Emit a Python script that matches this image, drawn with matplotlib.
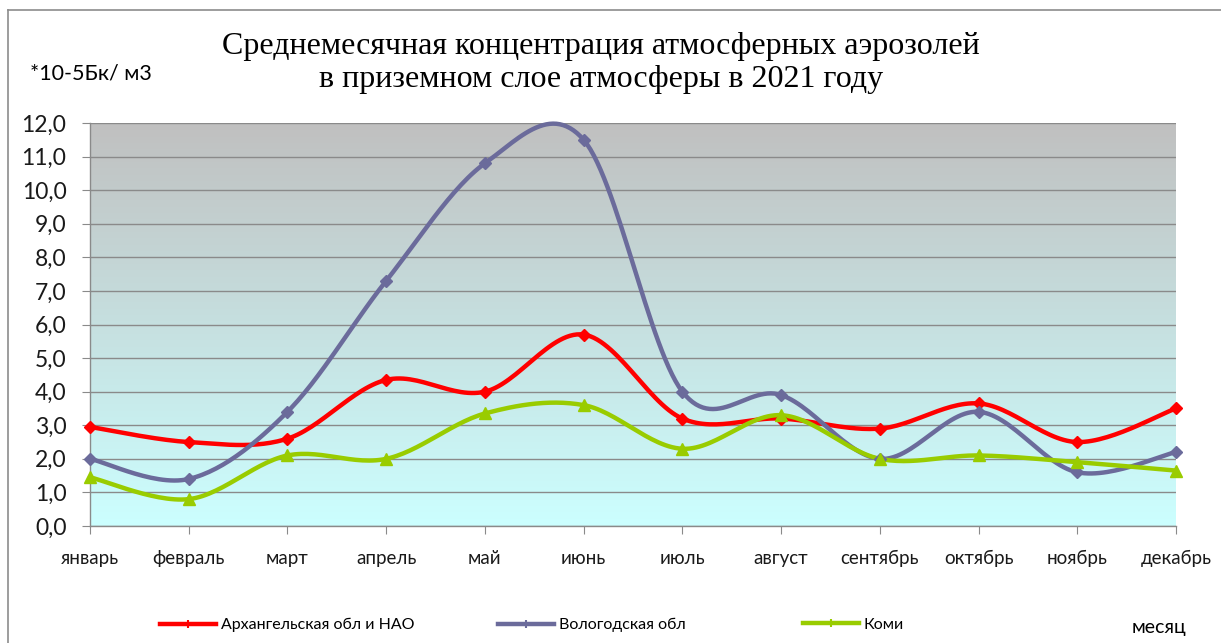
import numpy as np
import matplotlib
matplotlib.use("Agg")
import matplotlib.pyplot as plt
from matplotlib.lines import Line2D

months = ["январь", "февраль", "март", "апрель", "май", "июнь", "июль",
          "август", "сентябрь", "октябрь", "ноябрь", "декабрь"]
arkh = [2.95, 2.5, 2.6, 4.35, 4.0, 5.7, 3.2, 3.2, 2.9, 3.65, 2.5, 3.5]
volog = [2.0, 1.4, 3.4, 7.3, 10.8, 11.5, 4.0, 3.9, 2.0, 3.4, 1.6, 2.2]
komi = [1.45, 0.8, 2.1, 2.0, 3.35, 3.6, 2.3, 3.3, 2.0, 2.1, 1.9, 1.65]
series_names = ["Архангельская обл и НАО", "Вологодская обл", "Коми"]
yticks = np.arange(0, 12.1, 1.0)
ytick_labels = [f"{v:.1f}".replace(".", ",") for v in yticks]

title = "Среднемесячная концентрация атмосферных аэрозолей\nв приземном слое атмосферы в 2021 году"


def smooth(xs, ys, n=30):
    """Excel-style smoothed line: cubic Bezier with Catmull-Rom control points."""
    xs = np.asarray(xs, float)
    ys = np.asarray(ys, float)
    px = np.concatenate([[xs[0]], xs, [xs[-1]]])
    py = np.concatenate([[ys[0]], ys, [ys[-1]]])
    outx, outy = [], []
    t = np.linspace(0, 1, n)
    for i in range(1, len(px) - 2):
        p0 = np.array([px[i], py[i]])
        p3 = np.array([px[i + 1], py[i + 1]])
        c1 = p0 + (np.array([px[i + 1], py[i + 1]]) - np.array([px[i - 1], py[i - 1]])) / 6
        c2 = p3 - (np.array([px[i + 2], py[i + 2]]) - np.array([px[i], py[i]])) / 6
        b = ((1 - t) ** 3)[:, None] * p0 + (3 * (1 - t) ** 2 * t)[:, None] * c1 \
            + (3 * (1 - t) * t ** 2)[:, None] * c2 + (t ** 3)[:, None] * p3
        outx.extend(b[:, 0])
        outy.extend(b[:, 1])
    return np.array(outx), np.array(outy)


W, H = 1221, 643
fig = plt.figure(figsize=(W / 100, H / 100), dpi=100)
fig.patch.set_facecolor("white")

# outer chart border (partial, like the reference)
fig.add_artist(Line2D([8 / W, 8 / W], [0, 1 - 10 / H], transform=fig.transFigure, color="#8c8c8c", lw=1.2))
fig.add_artist(Line2D([8 / W, 1], [1 - 10 / H, 1 - 10 / H], transform=fig.transFigure, color="#8c8c8c", lw=1.2))

left, right = 90 / W, 1176 / W
bottom, top = (H - 526) / H, (H - 123) / H
ax = fig.add_axes([left, bottom, right - left, top - bottom])

x = np.arange(len(months))
ax.set_xlim(0, len(months) - 1)
ax.set_ylim(0, 12)

# gradient background
grad = np.linspace(0, 1, 256)[:, None]
c_top = np.array([192, 192, 192]) / 255
c_bot = np.array([204, 255, 255]) / 255
img = c_top[None, None, :] * (1 - grad[:, :, None]) + c_bot[None, None, :] * grad[:, :, None]
ax.imshow(img, extent=[0, len(months) - 1, 0, 12], aspect="auto", zorder=0, interpolation="bilinear")

# grid
for v in yticks:
    ax.axhline(v, color="#8a8a8a", lw=1.0, zorder=1)

styles = [
    (arkh, "#ff0000", "D", 6),
    (volog, "#6b6b9b", "D", 6),
    (komi, "#99cc00", "^", 8),
]
handles = []
for (vals, col, mk, ms), name in zip(styles, series_names):
    sx, sy = smooth(x, vals)
    ax.plot(sx, sy, color=col, lw=3.2, zorder=3, clip_on=False, solid_capstyle="round")
    ax.plot(x, vals, linestyle="none", marker=mk, color=col, ms=ms, zorder=4, clip_on=False)
    handles.append(Line2D([], [], color=col, lw=3.2, marker="|", ms=6, mew=1.5))

for sp in ["top", "right"]:
    ax.spines[sp].set_visible(False)
for sp in ["left", "bottom"]:
    ax.spines[sp].set_color("#8a8a8a")
    ax.spines[sp].set_linewidth(1.0)

ax.set_yticks(yticks)
ax.set_yticklabels(ytick_labels, fontsize=16.5, family="Lato", color="#1a1a1a")
ax.set_xticks(x)
ax.set_xticklabels(months, fontsize=13.5, family="Lato", color="#1a1a1a")
ax.tick_params(axis="y", length=6, color="#8a8a8a", pad=11)
ax.tick_params(axis="x", length=6, color="#8a8a8a", pad=11)

fig.text(0.492, 1 - 63 / H, title, ha="center", va="center", fontsize=23,
         family="Liberation Serif", linespacing=1.2)
fig.text(30 / W, 1 - 73 / H, "*10-5Бк/ м3", ha="left", va="center", fontsize=15.5, family="Lato")
fig.text(1132 / W, 1 - 628 / H, "месяц", ha="left", va="center", fontsize=14, family="Lato")

positions = [160, 498, 803]
for h, name, px in zip(handles, series_names, positions):
    fig.legend([h], [name], loc="center left", bbox_to_anchor=(px / W, 1 - 625 / H),
               frameon=False, handlelength=3.5, handletextpad=0.3,
               borderaxespad=0, borderpad=0, prop={"family": "Lato", "size": 11.5})

fig.savefig("out.png", dpi=100)
